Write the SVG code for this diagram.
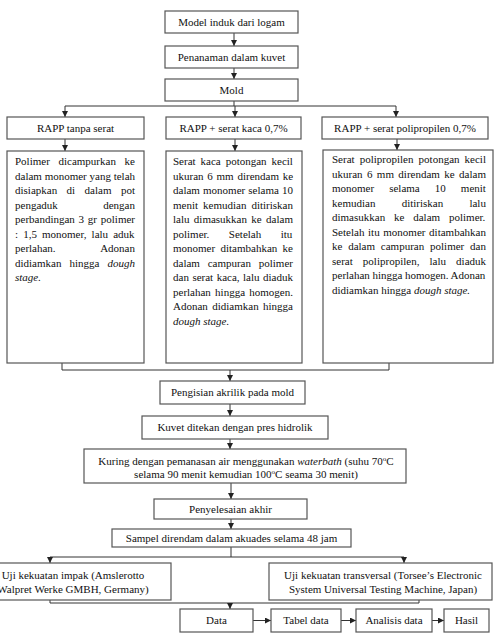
<svg xmlns="http://www.w3.org/2000/svg" width="494" height="642" viewBox="0 0 494 642">
<style>
  text { font-size: 11px; fill: #111; }
  .c { text-anchor: middle; }
  .i { font-style: italic; }
  .box { fill: #fff; stroke: #555; stroke-width: 1.2; }
  .ln { fill: none; stroke: #333; stroke-width: 1; }
  .sup { font-size: 7px; }
</style>
<defs>
  <marker id="ah" markerUnits="userSpaceOnUse" markerWidth="6" markerHeight="6" refX="6" refY="3" orient="auto">
    <path d="M0,0 L6,3 L0,6 z" fill="#222"/>
  </marker>
</defs>
<rect width="494" height="642" fill="#fff"/>

<g id="connectors">
  <path class="ln" d="M234,33 V46" marker-end="url(#ah)"/>
  <path class="ln" d="M234,68 V79" marker-end="url(#ah)"/>
  <path class="ln" d="M234,101 V106 M65,106 H396"/>
  <path class="ln" d="M65,106 V117" marker-end="url(#ah)"/>
  <path class="ln" d="M235,106 V117" marker-end="url(#ah)"/>
  <path class="ln" d="M396,106 V117" marker-end="url(#ah)"/>
  <path class="ln" d="M65,139 V151" marker-end="url(#ah)"/>
  <path class="ln" d="M235,139 V151" marker-end="url(#ah)"/>
  <path class="ln" d="M397,139 V150" marker-end="url(#ah)"/>
  <path class="ln" d="M62,363 V370 H389 V363"/>
  <path class="ln" d="M230,370 V381" marker-end="url(#ah)"/>
  <path class="ln" d="M230,404 V416" marker-end="url(#ah)"/>
  <path class="ln" d="M230,439 V449" marker-end="url(#ah)"/>
  <path class="ln" d="M231,483 V499" marker-end="url(#ah)"/>
  <path class="ln" d="M231,519 V529" marker-end="url(#ah)"/>
  <path class="ln" d="M231,547 V557 M50,557 H404"/>
  <path class="ln" d="M50,557 V563" marker-end="url(#ah)"/>
  <path class="ln" d="M404,557 V563" marker-end="url(#ah)"/>
  <path class="ln" d="M50,600 V603 H419 V600"/>
  <path class="ln" d="M230,603 V609" marker-end="url(#ah)"/>
  <path class="ln" d="M253,620.5 H271" marker-end="url(#ah)"/>
  <path class="ln" d="M341,620.5 H356" marker-end="url(#ah)"/>
  <path class="ln" d="M432,620.5 H444" marker-end="url(#ah)"/>
</g>

<g font-family="Liberation Serif, Times New Roman, serif">
<g id="model">
  <rect class="box" x="165" y="11" width="133" height="22"/>
  <text class="c" x="231.5" y="25.5">Model induk dari logam</text>
</g>
<g id="penanaman">
  <rect class="box" x="165" y="46" width="133" height="22"/>
  <text class="c" x="231.5" y="60.5">Penanaman dalam kuvet</text>
</g>
<g id="mold">
  <rect class="box" x="165" y="79" width="133" height="22"/>
  <text class="c" x="231.5" y="93.5">Mold</text>
</g>

<g id="rapp-tanpa">
  <rect class="box" x="7" y="117" width="137" height="22"/>
  <text class="c" x="75.5" y="131.5">RAPP tanpa serat</text>
</g>
<g id="rapp-kaca">
  <rect class="box" x="166" y="117" width="135" height="22"/>
  <text class="c" x="233.5" y="131.5">RAPP + serat kaca 0,7%</text>
</g>
<g id="rapp-pp">
  <rect class="box" x="322" y="117" width="166" height="22"/>
  <text class="c" x="405" y="131.5">RAPP + serat polipropilen 0,7%</text>
</g>

<g id="desc-tanpa">
  <rect class="box" x="7" y="151" width="137" height="212"/>
  <text x="15" y="165" style="word-spacing:5.9px">Polimer dicampurkan ke</text>
  <text x="15" y="179.5" style="word-spacing:0px">dalam monomer yang telah</text>
  <text x="15" y="194" style="word-spacing:6.7px">disiapkan di dalam pot</text>
  <text x="15" y="208.5">pengaduk</text><text x="135" y="208.5" text-anchor="end">dengan</text>
  <text x="15" y="223" style="word-spacing:1px">perbandingan 3 gr polimer</text>
  <text x="15" y="237.5" style="word-spacing:2.35px">: 1,5 monomer, lalu aduk</text>
  <text x="15" y="252">perlahan.</text><text x="135" y="252" text-anchor="end">Adonan</text>
  <text x="15" y="266.5" style="word-spacing:5.3px">didiamkan hingga <tspan class="i">dough</tspan></text>
  <text x="15" y="281" class="i">stage.</text>
</g>

<g id="desc-kaca">
  <rect class="box" x="166" y="151" width="136" height="212"/>
  <text x="173" y="165" style="word-spacing:2.2px">Serat kaca potongan kecil</text>
  <text x="173" y="179.5" style="word-spacing:1px">ukuran 6 mm direndam ke</text>
  <text x="173" y="194" style="word-spacing:0.4px">dalam monomer selama 10</text>
  <text x="173" y="208.5" style="word-spacing:2.25px">menit kemudian ditiriskan</text>
  <text x="173" y="223" style="word-spacing:1.6px">lalu dimasukkan ke dalam</text>
  <text x="173" y="237.5" style="word-spacing:16.75px">polimer. Setelah itu</text>
  <text x="173" y="252" style="word-spacing:2.55px">monomer ditambahkan ke</text>
  <text x="173" y="266.5" style="word-spacing:5px">dalam campuran polimer</text>
  <text x="173" y="281" style="word-spacing:0.75px">dan serat kaca, lalu diaduk</text>
  <text x="173" y="295.5" style="word-spacing:1.5px">perlahan hingga homogen.</text>
  <text x="173" y="310" style="word-spacing:1.65px">Adonan didiamkan hingga</text>
  <text x="173" y="324.5" class="i">dough stage.</text>
</g>

<g id="desc-pp">
  <rect class="box" x="323" y="150" width="170" height="213"/>
  <text x="332" y="163" style="word-spacing:2.35px">Serat polipropilen potongan kecil</text>
  <text x="332" y="177.5" style="word-spacing:1.65px">ukuran 6 mm direndam ke dalam</text>
  <text x="332" y="192" style="word-spacing:12.3px">monomer selama 10 menit</text>
  <text x="332" y="206.5" style="word-spacing:23.5px">kemudian ditiriskan lalu</text>
  <text x="332" y="221" style="word-spacing:6.1px">dimasukkan ke dalam polimer.</text>
  <text x="332" y="235.5" style="word-spacing:0.9px">Setelah itu monomer ditambahkan</text>
  <text x="332" y="250" style="word-spacing:3.05px">ke dalam campuran polimer dan</text>
  <text x="332" y="264.5" style="word-spacing:7.35px">serat polipropilen, lalu diaduk</text>
  <text x="332" y="279" style="word-spacing:-0.2px">perlahan hingga homogen. Adonan</text>
  <text x="332" y="293.5">didiamkan hingga <tspan class="i">dough stage.</tspan></text>
</g>

<g id="pengisian">
  <rect class="box" x="160" y="381" width="145" height="23"/>
  <text class="c" x="232.5" y="396">Pengisian akrilik pada mold</text>
</g>
<g id="kuvet">
  <rect class="box" x="142" y="416" width="186" height="23"/>
  <text class="c" x="235" y="431">Kuvet ditekan dengan pres hidrolik</text>
</g>
<g id="kuring">
  <rect class="box" x="84" y="449" width="322" height="34"/>
  <text class="c" x="246" y="464.5">Kuring dengan pemanasan air menggunakan <tspan class="i">waterbath</tspan> (suhu 70<tspan class="sup" dy="-4">o</tspan><tspan dy="4">C</tspan></text>
  <text class="c" x="246" y="478">selama 90 menit kemudian 100<tspan class="sup" dy="-4">o</tspan><tspan dy="4">C seama 30 menit)</tspan></text>
</g>
<g id="penyelesaian">
  <rect class="box" x="154" y="499" width="153" height="20"/>
  <text class="c" x="230.5" y="512.5">Penyelesaian akhir</text>
</g>
<g id="sampel">
  <rect class="box" x="112" y="529" width="239" height="18"/>
  <text class="c" x="231.5" y="541.5">Sampel direndam dalam akuades selama 48 jam</text>
</g>

<g id="uji-impak">
  <rect class="box" x="-25" y="563" width="196" height="37"/>
  <text class="c" x="73" y="578.5">Uji kekuatan impak (Amslerotto</text>
  <text class="c" x="73" y="592.5">Walpret Werke GMBH, Germany)</text>
</g>
<g id="uji-transversal">
  <rect class="box" x="269" y="563" width="223" height="37"/>
  <text class="c" x="383" y="578.5">Uji kekuatan transversal (Torsee’s Electronic</text>
  <text class="c" x="383" y="592.5">System Universal Testing Machine, Japan)</text>
</g>

<g id="data">
  <rect class="box" x="180" y="609" width="73" height="23"/>
  <text class="c" x="216.5" y="624">Data</text>
</g>
<g id="tabel">
  <rect class="box" x="271" y="609" width="70" height="23"/>
  <text class="c" x="306" y="624">Tabel data</text>
</g>
<g id="analisis">
  <rect class="box" x="356" y="609" width="76" height="23"/>
  <text class="c" x="394" y="624">Analisis data</text>
</g>
<g id="hasil">
  <rect class="box" x="444" y="609" width="45" height="23"/>
  <text class="c" x="466.5" y="624">Hasil</text>
</g>
</g>
</svg>
